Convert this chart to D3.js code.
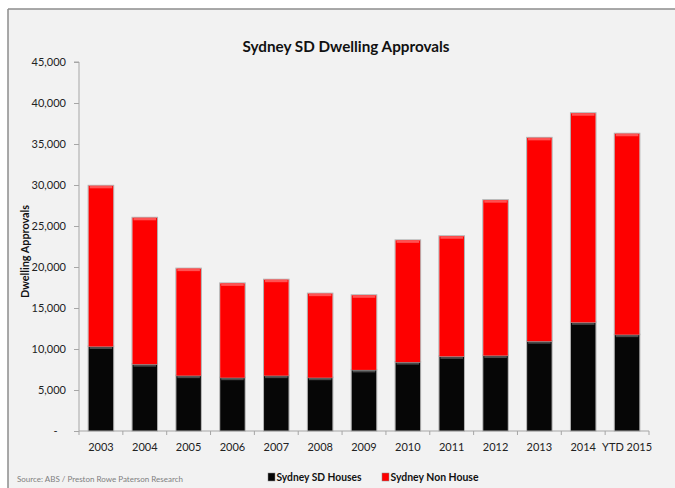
<!DOCTYPE html>
<html><head><meta charset="utf-8">
<script src="https://cdn.jsdelivr.net/npm/d3@7/dist/d3.min.js"></script>
<style>
html,body{margin:0;padding:0;background:#fff;}
svg{display:block;font-family:Lato,"Open Sans",sans-serif;}
</style></head>
<body>
<script>
const categories = ["2003","2004","2005","2006","2007","2008","2009","2010","2011","2012","2013","2014","YTD 2015"];
const houses =    [10300, 8150, 6750, 6500, 6750, 6500, 7450, 8400, 9100, 9200, 10950, 13250, 11750];
const nonHouses = [19600,17850,13050,11500,11700,10250, 9100,14850,14650,18950,24800,25500,24500];
const seriesNames = ["Sydney SD Houses","Sydney Non House"];
const yTicks = [0,5000,10000,15000,20000,25000,30000,35000,40000,45000];

const W = 675, H = 488;
const svg = d3.select("body").append("svg").attr("width", W).attr("height", H);

// chart frame
svg.append("rect").attr("x",8).attr("y",9).attr("width",W).attr("height",H).attr("fill","#f2f2f2");
svg.append("line").attr("x1",8).attr("x2",W).attr("y1",9).attr("y2",9).attr("stroke","#8c8c8c").attr("stroke-width",1.5);
svg.append("line").attr("x1",8).attr("x2",8).attr("y1",9).attr("y2",H).attr("stroke","#8c8c8c").attr("stroke-width",1.5);

const x = d3.scaleBand().domain(categories).range([79,649]).paddingInner(0.44).paddingOuter(0.22);
const y = d3.scaleLinear().domain([0,45000]).range([431,62]);

const data = categories.map((c,i)=>({cat:c, h:houses[i], n:nonHouses[i]}));
const stack = d3.stack().keys(["h","n"])(data);
const colors = {h:"#060606", n:"#fe0000"};
const hi = {h:"#4a4a4a", n:"#ff5252"};

// bars
stack.forEach(layer=>{
  const g = svg.append("g");
  layer.forEach(d=>{
    const x0 = x(d.data.cat), bw = x.bandwidth();
    const yt = y(d[1]), yb = y(d[0]);
    g.append("rect").attr("x",x0-0.5).attr("y",yt-0.5).attr("width",bw+1).attr("height",yb-yt+0.5)
      .attr("fill","none").attr("stroke","#b0b0b0").attr("stroke-width",1);
    g.append("rect").attr("x",x0).attr("y",yt).attr("width",bw).attr("height",yb-yt).attr("fill",colors[layer.key]);
    g.append("rect").attr("x",x0+1).attr("y",yt).attr("width",bw-2).attr("height",2.5).attr("fill",hi[layer.key]);
  });
});

// y axis
const yAxis = d3.axisLeft(y).tickValues(yTicks).tickSize(5).tickPadding(8)
  .tickFormat(v => v===0 ? "-   " : d3.format(",")(v));
const ya = svg.append("g").attr("transform","translate(79,0)").call(yAxis);
ya.select(".domain").attr("stroke","#a6a6a6").attr("d","M-5,62H0V431");
ya.selectAll(".tick line").attr("stroke","#a6a6a6");
ya.selectAll(".tick text").attr("font-family","Lato, sans-serif").attr("font-size",11).attr("fill","#222").attr("x",-13).attr("xml:space","preserve");

// x axis
const xa = svg.append("g").attr("transform","translate(0,431)");
xa.append("line").attr("x1",79).attr("x2",649).attr("y1",0).attr("y2",0).attr("stroke","#a6a6a6");
const bounds = d3.range(categories.length+1).map(i=>79 + i*x.step());
xa.selectAll("line.tk").data(bounds).join("line").attr("class","tk")
  .attr("x1",d=>d).attr("x2",d=>d).attr("y1",0).attr("y2",4).attr("stroke","#a6a6a6");
xa.selectAll("text").data(categories).join("text")
  .attr("x",d=>x(d)+x.bandwidth()/2).attr("y",20).attr("text-anchor","middle")
  .attr("font-size",11).attr("fill","#222").text(d=>d);

// title
svg.append("text").attr("x",346).attr("y",52).attr("text-anchor","middle")
  .attr("font-size",16).attr("font-weight","bold").attr("fill","#111")
  .attr("textLength",207).attr("lengthAdjust","spacingAndGlyphs")
  .text("Sydney SD Dwelling Approvals");

// y title
svg.append("text").attr("transform","translate(29,251.5) rotate(-90)").attr("text-anchor","middle")
  .attr("font-size",11).attr("font-weight","bold").attr("fill","#111")
  .attr("textLength",93).attr("lengthAdjust","spacingAndGlyphs")
  .text("Dwelling Approvals");

// legend
const leg = [{name:seriesNames[0], c:colors.h, x:268, tl:85},{name:seriesNames[1], c:colors.n, x:382, tl:88}];
leg.forEach(l=>{
  svg.append("rect").attr("x",l.x).attr("y",473).attr("width",7).attr("height",8).attr("fill",l.c).attr("stroke","#888").attr("stroke-width",0.5);
  svg.append("text").attr("x",l.x+8.5).attr("y",481).attr("font-size",11).attr("font-weight","bold").attr("fill","#111")
    .attr("textLength",l.tl).attr("lengthAdjust","spacingAndGlyphs").text(l.name);
});

// source
svg.append("text").attr("x",17).attr("y",482).attr("font-size",8).attr("fill","#7f7f7f")
  .attr("textLength",166).attr("lengthAdjust","spacingAndGlyphs")
  .text("Source: ABS / Preston Rowe Paterson Research");
</script>
</body></html>
